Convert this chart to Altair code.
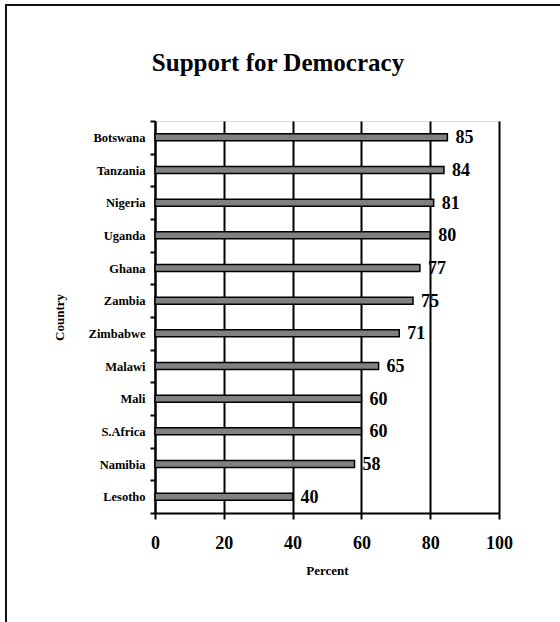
import altair as alt
import pandas as pd

countries = ["Botswana", "Tanzania", "Nigeria", "Uganda", "Ghana", "Zambia",
             "Zimbabwe", "Malawi", "Mali", "S.Africa", "Namibia", "Lesotho"]
percent = [85, 84, 81, 80, 77, 75, 71, 65, 60, 60, 58, 40]
x_ticks = [0, 20, 40, 60, 80, 100]

df = pd.DataFrame({"Country": countries, "Percent": percent})

FONT = "Liberation Serif"

y_enc = alt.Y("Country:N", sort=countries, title="Country",
              scale=alt.Scale(paddingInner=0, paddingOuter=0),
              axis=alt.Axis(tickBand="extent", tickSize=5, tickWidth=2, tickColor="black",
                            labelPadding=5, labelFontSize=12.5, labelFont=FONT,
                            labelFontWeight="bold", labelColor="black",
                            titleFont=FONT, titleFontSize=13, titleFontWeight="bold",
                            titleColor="black", titlePadding=22, grid=False,
                            domainColor="black", domainWidth=2))
x_enc = alt.X("Percent:Q", title="Percent",
              scale=alt.Scale(domain=[0, 100], nice=False),
              axis=alt.Axis(values=x_ticks, tickSize=6, tickWidth=2, tickColor="black",
                            labelPadding=15, labelFontSize=18, labelFont=FONT,
                            labelFontWeight="bold", labelColor="black", labelFlush=False,
                            titleFont=FONT, titleFontSize=13, titleFontWeight="bold",
                            titleColor="black", titlePadding=12,
                            grid=True, gridColor="black", gridWidth=2, gridOpacity=1,
                            domainColor="black", domainWidth=2))

base = alt.Chart(df)

bars = base.mark_bar(color="#808080", stroke="black", strokeWidth=1.5, size=7).encode(
    x=x_enc, y=y_enc)

labels = base.mark_text(align="left", baseline="middle", dx=8, dy=1, font=FONT,
                        fontSize=18, fontWeight="bold", color="black").encode(
    x="Percent:Q", y=alt.Y("Country:N", sort=countries), text="Percent:Q")

border_top = alt.Chart(df).mark_rule(color="#111", strokeWidth=2).encode(
    x=alt.value(-150), x2=alt.value(420), y=alt.value(-116))
border_left = alt.Chart(df).mark_rule(color="#111", strokeWidth=2).encode(
    x=alt.value(-149), y=alt.value(-117), y2=alt.value(520))

chart = alt.layer(bars, labels, border_top, border_left).properties(
    width=344, height=392,
    title=alt.TitleParams("Support for Democracy", font=FONT, fontSize=25,
                          fontWeight="bold", color="black", anchor="middle",
                          dx=-49, offset=-93, baseline="alphabetic"),
    autosize=alt.AutoSizeParams(type="none"),
    padding={"left": 155, "top": 121, "right": 61, "bottom": 109},
).configure_view(stroke="black", strokeWidth=2).configure(background="white")

chart.save("out.html", embed_options={"renderer": "svg", "actions": False})
